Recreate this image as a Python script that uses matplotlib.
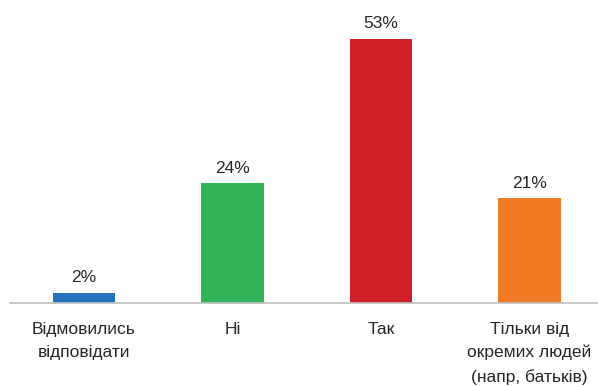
import matplotlib
matplotlib.use("Agg")
import matplotlib.pyplot as plt

categories = ["Відмовились\nвідповідати", "Ні", "Так", "Тільки від\nокремих людей\n(напр, батьків)"]
values = [2, 24, 53, 21]
value_labels = ["2%", "24%", "53%", "21%"]
colors = ["#2272BE", "#32B45A", "#CF2027", "#F17A24"]

plt.rcParams['font.family'] = ['Liberation Sans', 'DejaVu Sans']

W, H = 598, 387
fig = plt.figure(figsize=(W/100, H/100), dpi=100)
left_px, right_px, top_px, base_px = 10, 598, 0, 303
ax = fig.add_axes([left_px/W, 1 - base_px/H, (right_px-left_px)/W, (base_px-top_px)/H])

x = list(range(len(categories)))
ax.bar(x, values, width=0.418, color=colors, zorder=2)
for xi, v, lab in zip(x, values, value_labels):
    ax.annotate(lab, (xi, v), xytext=(0, 5.5), textcoords="offset points",
                ha="center", va="bottom", fontsize=12.5, color="#262626")

ax.set_xlim((left_px-84)/148.5, (right_px-84)/148.5)
ax.set_ylim(0, 303/4.98)
for s in ["top", "right", "left"]:
    ax.spines[s].set_visible(False)
ax.spines["bottom"].set_color("#BFBFBF")
ax.spines["bottom"].set_linewidth(1.2)
ax.set_yticks([])
ax.set_xticks(x)
ax.set_xticklabels(categories, fontsize=12.5, color="#262626", linespacing=1.66, va="top")
ax.tick_params(axis="x", length=0, pad=13.5)

fig.savefig("out.png", dpi=100)
